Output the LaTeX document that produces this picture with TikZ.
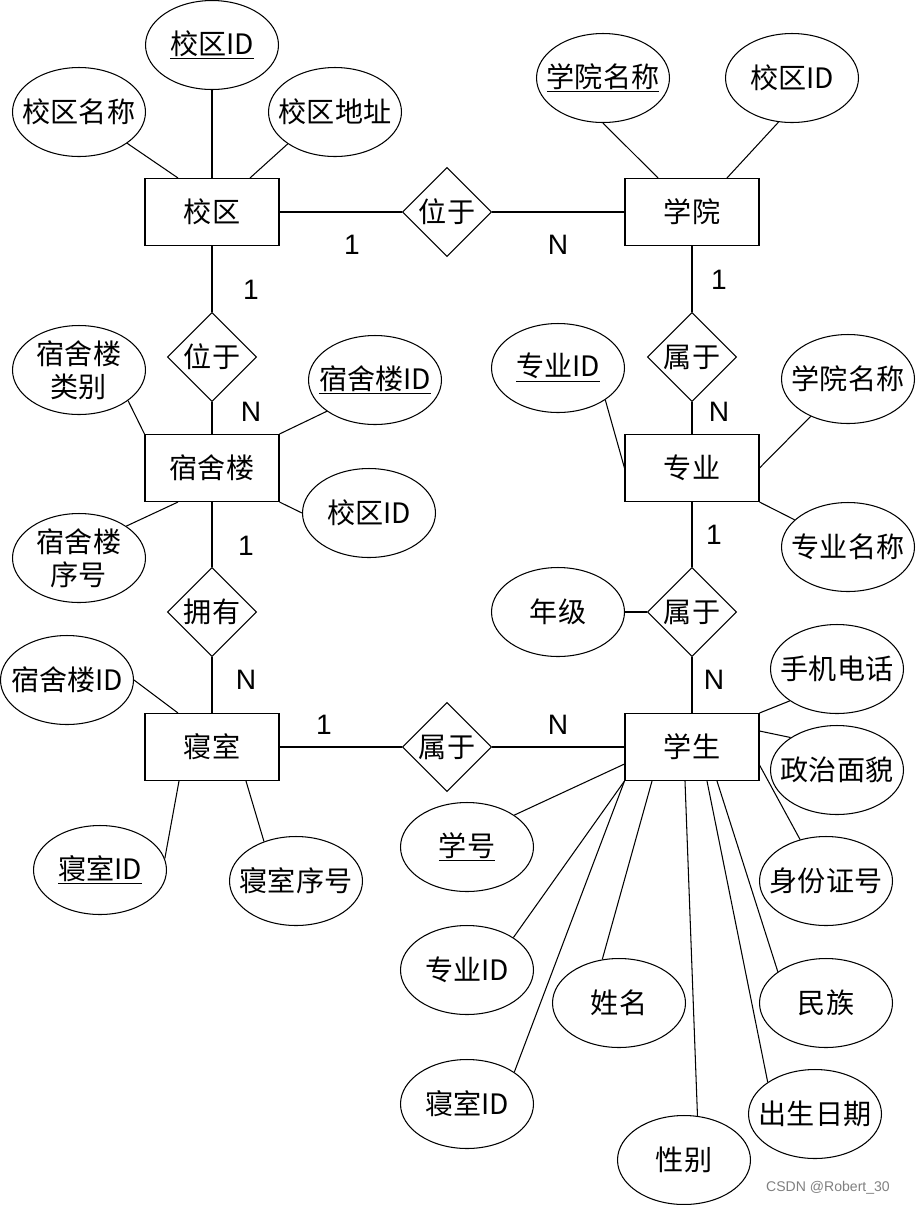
\documentclass[tikz,border=0pt]{standalone}
\usepackage{fontspec}
\setmainfont{Liberation Sans}
\newfontfamily\cjk{Noto Sans CJK SC}
\usetikzlibrary{shapes.geometric}

\tikzset{
  entity/.style={draw, rectangle, minimum width=2.68cm, minimum height=1.34cm, inner sep=0pt,
    font={\cjk\fontsize{16}{19}\selectfont}},
  attr/.style={draw, ellipse, minimum width=2.66cm, minimum height=1.78cm, inner sep=-0.3cm,
    align=center, font={\cjk\fontsize{16}{19}\selectfont}},
  rel/.style={draw, diamond, aspect=1, minimum width=1.78cm, minimum height=1.78cm, inner sep=0pt,
    font={\cjk\fontsize{16}{19}\selectfont}},
  card/.style={font={\fontsize{16}{19}\selectfont}},
}

\begin{document}
\begin{tikzpicture}[x=0.02cm, y=-0.02cm, line width=0.6pt]
  \useasboundingbox (0,0) rectangle (916,1205);

  % Entities
  \node[entity] (xq)  at (212,212) {校区};
  \node[entity] (xy)  at (692,212) {学院};
  \node[entity] (ssl) at (212,468) {宿舍楼};
  \node[entity] (zy)  at (692,468) {专业};
  \node[entity] (qs)  at (212,747) {寝室};
  \node[entity] (xs)  at (692,747) {学生};

  % Relationships
  \node[rel] (xqxy)  at (447,212) {位于};
  \node[rel] (xqssl) at (212,357) {位于};
  \node[rel] (xyzy)  at (692,357) {属于};
  \node[rel] (sslqs) at (212,612) {拥有};
  \node[rel] (zyxs)  at (692,612) {属于};
  \node[rel] (qsxs)  at (447,747) {属于};

  \draw (xq) -- (xqxy) -- (xy);
  \draw (xq) -- (xqssl) -- (ssl);
  \draw (xy) -- (xyzy) -- (zy);
  \draw (ssl) -- (sslqs) -- (qs);
  \draw (zy) -- (zyxs) -- (xs);
  \draw (qs) -- (qsxs) -- (xs);

  % Cardinalities
  \node[card] (c1)  at (352,245) {1};
  \node[card] (c2)  at (558,245) {N};
  \node[card] (c3)  at (251,290) {1};
  \node[card] (c4)  at (251,412) {N};
  \node[card] (c5)  at (719,280) {1};
  \node[card] (c6)  at (719,412) {N};
  \node[card] (c7)  at (246,546) {1};
  \node[card] (c8)  at (246,680) {N};
  \node[card] (c9)  at (714,535) {1};
  \node[card] (c10) at (714,680) {N};
  \node[card] (c11) at (324,725) {1};
  \node[card] (c12) at (558,725) {N};

  % Attributes of 校区
  \node[attr] (xqid) at (212,45)  {\underline{校区ID}};
  \node[attr] (xqmc) at (79,112)  {校区名称};
  \node[attr] (xqdz) at (335,112) {校区地址};
  \draw (xqid) -- (xq.north);
  \draw (xqmc.-33) -- ([xshift=-0.68cm]xq.north);
  \draw (xqdz.214) -- ([xshift=0.76cm]xq.north);

  % Attributes of 学院
  \node[attr] (xymc) at (603,78) {\underline{学院名称}};
  \node[attr] (xyxq) at (792,78) {校区ID};
  \draw (xymc.south) -- ([xshift=-0.68cm]xy.north);
  \draw (xyxq.253) -- ([xshift=0.7cm]xy.north);

  % Attributes of 宿舍楼
  \node[attr] (sslfl) at (79,370)  {宿舍楼\\类别};
  \node[attr] (sslid) at (375,380) {\underline{宿舍楼ID}};
  \node[attr] (sslxq) at (369,513) {校区ID};
  \node[attr] (sslxh) at (79,558)  {宿舍楼\\序号};
  \draw (sslfl.-32) -- (ssl.north west);
  \draw (sslid.213) -- (ssl.north east);
  \draw (sslxq.west) -- (ssl.south east);
  \draw (sslxh.34) -- ([xshift=-0.68cm]ssl.south);

  % Attributes of 专业
  \node[attr] (zyid) at (558,368) {\underline{专业ID}};
  \node[attr] (zyxy) at (848,379) {学院名称};
  \node[attr] (zymc) at (848,547) {专业名称};
  \node[attr] (nj)   at (558,612) {年级};
  \draw (zyid.-34) -- (zy.west);
  \draw (zyxy.225) -- (zy.east);
  \draw (zymc.153) -- (zy.south east);
  \draw (nj) -- (zyxs);

  % Attributes of 寝室
  \node[attr] (qsssl) at (67,680)  {宿舍楼ID};
  \node[attr] (qsid)  at (100,870) {\underline{寝室ID}};
  \node[attr] (qsxh)  at (296,881) {寝室序号};
  \draw (qsssl.east) -- ([xshift=-0.68cm]qs.north);
  \draw (qsid.10) -- ([xshift=-0.66cm]qs.south);
  \draw (qsxh.129) -- ([xshift=0.68cm]qs.south);

  % Attributes of 学生
  \node[attr] (sjdh) at (837,669)  {手机电话};
  \node[attr] (zzmm) at (837,770)  {政治面貌};
  \node[attr] (sfzh) at (826,881)  {身份证号};
  \node[attr] (xh)   at (467,847)  {\underline{学号}};
  \node[attr] (xszy) at (467,970)  {专业ID};
  \node[attr] (xsqs) at (467,1104) {寝室ID};
  \node[attr] (xm)   at (619,1003) {姓名};
  \node[attr] (xb)   at (684,1160) {性别};
  \node[attr] (mz)   at (826,1003) {民族};
  \node[attr] (csrq) at (815,1114) {出生日期};
  \draw (sjdh.214) -- (xs.north east);
  \draw (zzmm.145) -- ([yshift=0.32cm]xs.east);
  \draw (sfzh.122) -- ([yshift=-0.36cm]xs.east);
  \draw (xh.34) -- ([yshift=-0.34cm]xs.west);
  \draw (xszy.35) -- (xs.south west);
  \draw (xsqs.34) -- (xs.south west);
  \draw (xm.111) -- ([xshift=-0.8cm]xs.south);
  \draw (xb.73) -- ([xshift=-0.14cm]xs.south);
  \draw (csrq.146) -- ([xshift=0.3cm]xs.south);
  \draw (mz.147) -- ([xshift=0.5cm]xs.south);

  % Watermark
  \node[font={\fontsize{8}{10}\selectfont}, text=gray] (wm) at (828,1188) {CSDN @Robert\_30};
\end{tikzpicture}
\end{document}
